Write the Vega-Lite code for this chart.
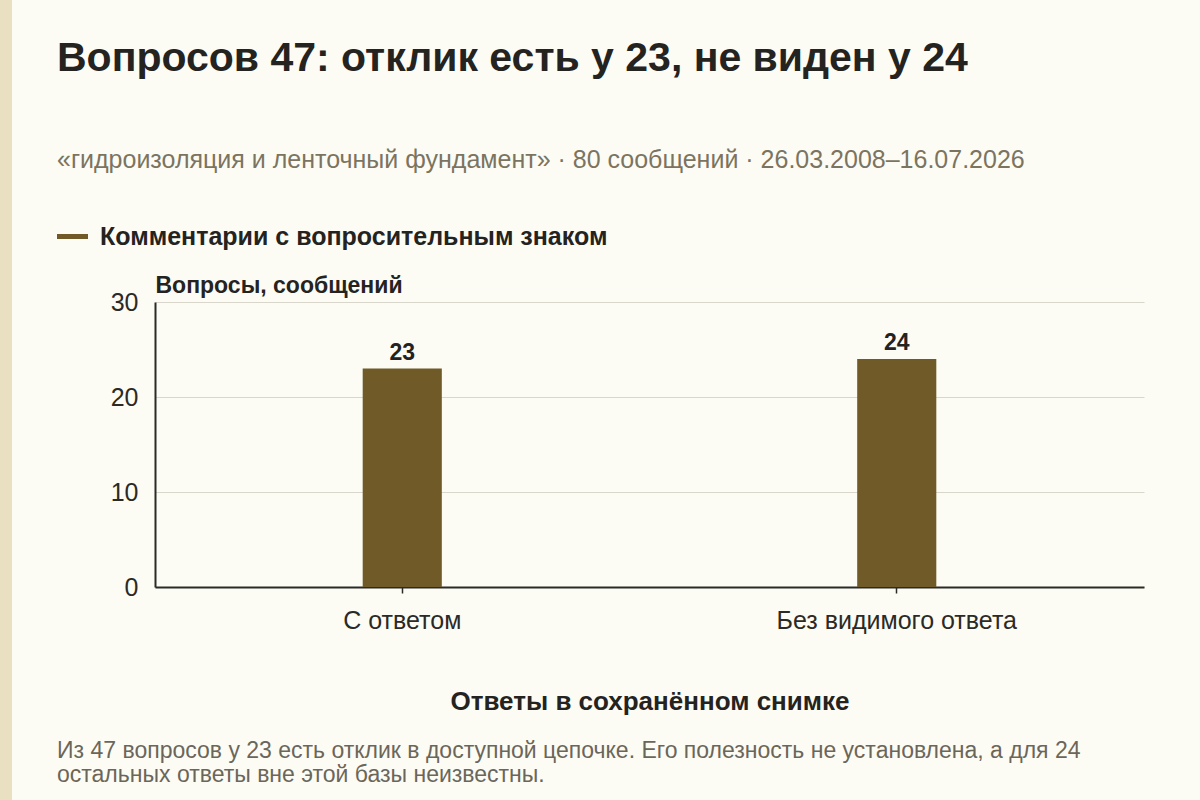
{
  "$schema": "https://vega.github.io/schema/vega-lite/v6.json",
  "background": "#fdfcf4",
  "padding": {"left": 0, "top": 0, "right": 56, "bottom": 0},
  "config": {
    "font": "Liberation Sans",
    "view": {"stroke": null},
    "title": {"font": "Liberation Sans"},
    "axis": {"labelFont": "Liberation Sans", "titleFont": "Liberation Sans"},
    "legend": {"labelFont": "Liberation Sans"}
  },
  "data": {
    "values": [
      {"answer": "С ответом", "questions": 23, "series": "Комментарии с вопросительным знаком"},
      {"answer": "Без видимого ответа", "questions": 24, "series": "Комментарии с вопросительным знаком"}
    ]
  },
  "spacing": 45,
  "resolve": {"scale": {"color": "independent"}, "legend": {"color": "independent"}},
  "hconcat": [
    {
      "width": 12,
      "height": 800,
      "view": {"fill": "#e9dfc1", "stroke": null},
      "mark": {"type": "text", "text": ""},
      "encoding": {}
    },
    {
      "spacing": 48,
      "resolve": {"scale": {"color": "independent"}, "legend": {"color": "independent"}},
      "vconcat": [
        {
          "width": 989,
          "height": 20,
          "title": {
            "text": "Вопросов 47: отклик есть у 23, не виден у 24",
            "subtitle": "«гидроизоляция и ленточный фундамент» · 80 сообщений · 26.03.2008–16.07.2026",
            "orient": "bottom",
            "anchor": "start",
            "dx": -98,
            "offset": 19,
            "fontSize": 41,
            "fontWeight": "bold",
            "color": "#24231f",
            "subtitleFontSize": 25,
            "subtitleColor": "#7b7461",
            "subtitlePadding": 68
          },
          "mark": {"type": "text", "text": ""},
          "encoding": {}
        },
        {
          "width": 989,
          "height": 285,
          "title": {
            "text": [
              "Из 47 вопросов у 23 есть отклик в доступной цепочке. Его полезность не установлена, а для 24",
              "остальных ответы вне этой базы неизвестны."
            ],
            "orient": "bottom",
            "anchor": "start",
            "offset": 26,
            "fontSize": 23,
            "fontWeight": "normal",
            "lineHeight": 24,
            "color": "#6b665a"
          },
          "layer": [
            {
              "mark": {"type": "bar", "color": "#6f5a28"},
              "encoding": {
                "x": {
                  "field": "answer",
                  "type": "nominal",
                  "sort": null,
                  "scale": {"paddingInner": 0.84, "paddingOuter": 0.42},
                  "axis": {
                    "title": "Ответы в сохранённом снимке",
                    "titleFontSize": 26,
                    "titleFontWeight": "bold",
                    "titleColor": "#24231f",
                    "titlePadding": 55,
                    "labelAngle": 0,
                    "labelFontSize": 25,
                    "labelColor": "#2b2a26",
                    "labelPadding": 15,
                    "labelLimit": 500,
                    "tickSize": 6,
                    "tickColor": "#2b2a26",
                    "tickWidth": 1.5,
                    "domainColor": "#2b2a26",
                    "domainWidth": 2,
                    "grid": false
                  }
                },
                "y": {
                  "field": "questions",
                  "type": "quantitative",
                  "scale": {"domain": [0, 30], "nice": false},
                  "axis": {
                    "values": [0, 10, 20, 30],
                    "title": "Вопросы, сообщений",
                    "titleAngle": 0,
                    "titleAlign": "left",
                    "titleBaseline": "alphabetic",
                    "titleX": 0,
                    "titleY": -10,
                    "titleFontSize": 23,
                    "titleFontWeight": "bold",
                    "titleColor": "#24231f",
                    "labelFontSize": 25,
                    "labelColor": "#2b2a26",
                    "labelPadding": 17,
                    "ticks": false,
                    "domainColor": "#2b2a26",
                    "domainWidth": 2,
                    "gridColor": "#d9d6cc",
                    "gridWidth": 1.2
                  }
                },
                "color": {
                  "field": "series",
                  "type": "nominal",
                  "scale": {"range": ["#6f5a28"]},
                  "legend": {
                    "title": null,
                    "orient": "none",
                    "legendX": -98,
                    "legendY": -81,
                    "padding": 0,
                    "symbolType": "M-1,-0.16H1V0.16H-1Z",
                    "symbolSize": 961,
                    "symbolStrokeWidth": 0,
                    "labelFontSize": 25,
                    "labelFontWeight": "bold",
                    "labelColor": "#24231f",
                    "labelOffset": 12,
                    "labelLimit": 800
                  }
                }
              }
            },
            {
              "mark": {"type": "text", "baseline": "alphabetic", "dy": -9, "fontSize": 23, "fontWeight": "bold", "color": "#24231f"},
              "encoding": {
                "x": {"field": "answer", "type": "nominal", "sort": null},
                "y": {"field": "questions", "type": "quantitative"},
                "text": {"field": "questions", "type": "quantitative"}
              }
            }
          ]
        }
      ]
    }
  ]
}
